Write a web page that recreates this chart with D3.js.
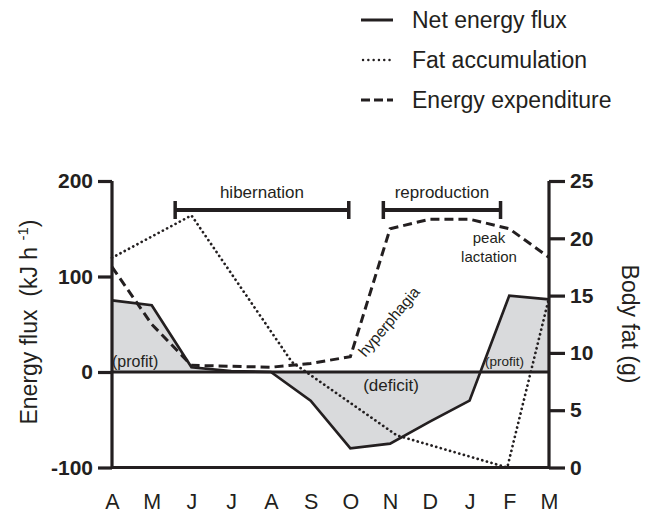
<!DOCTYPE html>
<html><head><meta charset="utf-8">
<script src="https://cdn.jsdelivr.net/npm/d3@7"></script>
<style>body{margin:0;background:#fff}svg{display:block;font-family:"Liberation Sans",Arial,sans-serif}</style>
</head><body>
<svg id="c" width="653" height="513"></svg>
<script>
// ---- data ----
const months = ["A","M","J","J","A","S","O","N","D","J","F","M"];
const netFlux = [75, 70, 5, 1, 0, -30, -80, -75, -52, -30, 80, 76];           // kJ/h, per month
const expenditure = [110, 50, 7, 6, 5, 9, 16, 150, 160, 160, 150, 120];       // kJ/h, per month
const fatTime = [0, 2, 4.53, 7.17, 9.95, 11];                                  // month index
const fatGrams = [18.3, 22, 9.2, 2.8, 0, 14.8];                                // g
const leftTicks = [-100, 0, 100, 200];
const rightTicks = [0, 5, 10, 15, 20, 25];
const periods = [{name:"hibernation", from:1.59, to:5.96}, {name:"reproduction", from:6.83, to:9.78}];
const legendItems = [{name:"Net energy flux", style:"solid"},{name:"Fat accumulation", style:"dotted"},{name:"Energy expenditure", style:"dashed"}];

const ink = "#231f20";
const svg = d3.select("#c");
const x = d3.scaleLinear().domain([0, 11]).range([112, 549]);
const yL = d3.scaleLinear().domain([-100, 200]).range([467.5, 181]);
const yR = d3.scaleLinear().domain([0, 25]).range([467.5, 181]);
const idx = months.map((m,i)=>i);

// area (profit/deficit)
svg.append("path")
  .attr("d", d3.area().x(i=>x(i)).y0(yL(0)).y1(i=>yL(netFlux[i]))(idx))
  .attr("fill", "#d9dadc");

// zero line
svg.append("line").attr("x1", x(0)).attr("x2", x(11)).attr("y1", yL(0)).attr("y2", yL(0))
  .attr("stroke", ink).attr("stroke-width", 3);

// fat (dotted, right axis)
svg.append("path")
  .attr("d", d3.line().x((d,i)=>x(fatTime[i])).y(d=>yR(d))(fatGrams))
  .attr("fill","none").attr("stroke", ink).attr("stroke-width", 2.7)
  .attr("stroke-dasharray","0.1,4.7").attr("stroke-linecap","round");

// expenditure (dashed)
svg.append("path")
  .attr("d", d3.line().x(i=>x(i)).y(i=>yL(expenditure[i]))(idx))
  .attr("fill","none").attr("stroke", ink).attr("stroke-width", 3)
  .attr("stroke-dasharray","9,5");

// net flux (solid)
svg.append("path")
  .attr("d", d3.line().x(i=>x(i)).y(i=>yL(netFlux[i]))(idx))
  .attr("fill","none").attr("stroke", ink).attr("stroke-width", 2.7).attr("stroke-linejoin","miter");

// axes
const fmt = d => String(d);
const axL = svg.append("g").attr("transform", `translate(${x(0)},0)`)
  .call(d3.axisLeft(yL).tickValues(leftTicks).tickSize(14).tickPadding(5).tickFormat(fmt));
const axR = svg.append("g").attr("transform", `translate(${x(11)},0)`)
  .call(d3.axisRight(yR).tickValues(rightTicks).tickSize(16).tickPadding(5).tickFormat(fmt));
[axL, axR].forEach(a=>{
  a.select(".domain").attr("stroke", ink).attr("stroke-width", 3.2)
    .attr("d", a===axL ? `M0,${yL(-100)}V${yL(200)}` : `M0,${yR(0)}V${yR(25)}`);
  a.selectAll(".tick line").attr("stroke", ink).attr("stroke-width", 3.2);
  a.selectAll(".tick text").attr("fill", ink).attr("font-size", 21).attr("font-weight","bold")
    .attr("font-family", '"Liberation Sans",Arial,sans-serif');
});
// bottom line
svg.append("line").attr("x1", x(0)).attr("x2", x(11)).attr("y1", yL(-100)).attr("y2", yL(-100))
  .attr("stroke", ink).attr("stroke-width", 3.2);

// month labels
const axB = svg.append("g").attr("transform", `translate(0,${yL(-100)})`)
  .call(d3.axisBottom(x).tickValues(idx).tickSize(0).tickPadding(26).tickFormat(i=>months[i]));
axB.select(".domain").remove();
axB.selectAll(".tick text").attr("fill", ink).attr("font-size", 21.5)
  .attr("font-family", '"Liberation Sans",Arial,sans-serif');

// axis titles
const lt = svg.append("text").attr("transform","translate(37,322) rotate(-90)")
  .attr("text-anchor","middle").attr("font-size",23).attr("fill",ink).style("white-space","pre");
lt.append("tspan").text("Energy flux  (kJ h ");
lt.append("tspan").attr("font-size",15).attr("dy",-9).text("-1");
lt.append("tspan").attr("dy",9).text(")");
svg.append("text").attr("transform","translate(622,324) rotate(90)")
  .attr("text-anchor","middle").attr("font-size",23).attr("fill",ink).text("Body fat (g)");

// period bars
periods.forEach(p=>{
  const g = svg.append("g");
  g.append("line").attr("x1",x(p.from)).attr("x2",x(p.to)).attr("y1",210).attr("y2",210)
    .attr("stroke",ink).attr("stroke-width",4);
  [p.from,p.to].forEach(v=>g.append("line").attr("x1",x(v)).attr("x2",x(v)).attr("y1",201).attr("y2",219)
    .attr("stroke",ink).attr("stroke-width",3.5));
  g.append("text").attr("x",(x(p.from)+x(p.to))/2).attr("y",198).attr("text-anchor","middle")
    .attr("font-size",17).attr("fill",ink).text(p.name);
});

// annotations
const ann = (t,xx,yy,fs,extra)=>{const e=svg.append("text").attr("x",xx).attr("y",yy).attr("font-size",fs).attr("fill",ink).text(t); if(extra) extra(e); return e;};
ann("peak", 489, 243, 15, e=>e.attr("text-anchor","middle"));
ann("lactation", 489, 262, 15, e=>e.attr("text-anchor","middle"));
ann("(profit)", 112, 367, 16);
ann("(profit)", 485, 366, 13.5);
ann("(deficit)", 391, 391, 17, e=>e.attr("text-anchor","middle"));
svg.append("text").attr("transform","translate(393,325) rotate(-50)").attr("text-anchor","middle")
  .attr("font-size",15.5).attr("fill",ink).text("hyperphagia");

// legend
const lg = svg.append("g");
legendItems.forEach((d,i)=>{
  const yy = 20 + i*40;
  const l = lg.append("line").attr("x1",361).attr("x2",393).attr("y1",yy).attr("y2",yy).attr("stroke",ink);
  if(d.style==="solid") l.attr("stroke-width",3);
  if(d.style==="dotted") l.attr("stroke-width",2.4).attr("stroke-dasharray","0.1,5.2").attr("stroke-linecap","round").attr("x1",363);
  if(d.style==="dashed") l.attr("stroke-width",3).attr("stroke-dasharray","9,4");
  lg.append("text").attr("x",412).attr("y",yy+8).attr("font-size",23).attr("fill",ink).text(d.name);
});
</script>
</body></html>
